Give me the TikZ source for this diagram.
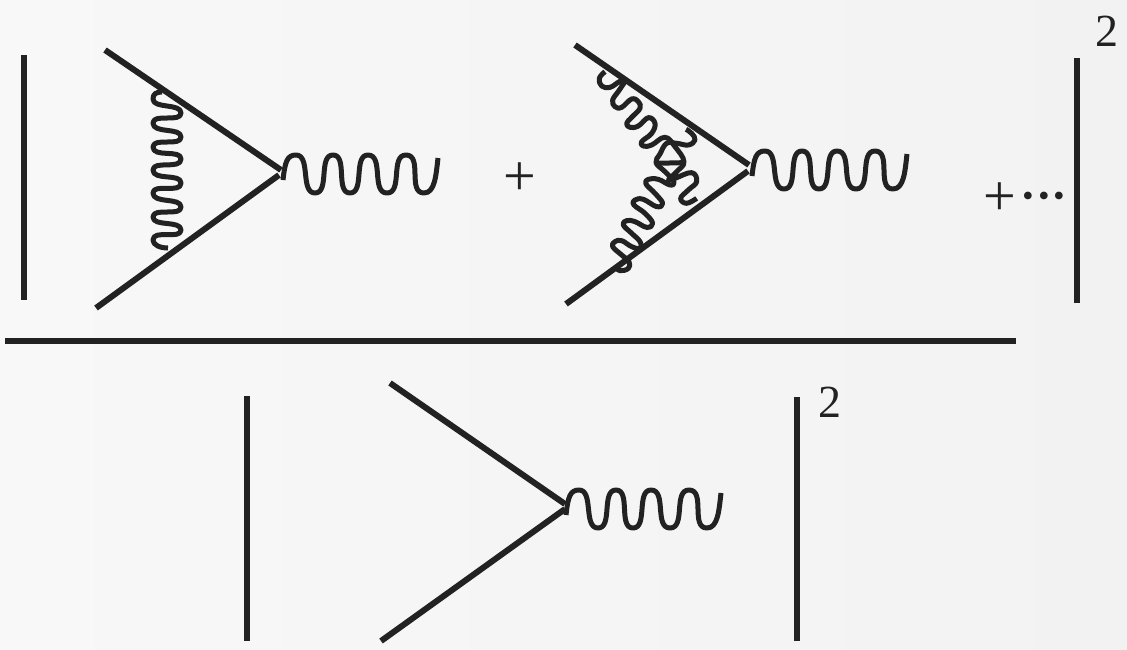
\documentclass[tikz,border=0pt]{standalone}
\usepackage{fontspec}
\setmainfont{Liberation Serif}
\definecolor{ink}{HTML}{222222}
\definecolor{bgA}{HTML}{F8F8F8}
\definecolor{bgB}{HTML}{F2F2F2}
\tikzset{
  fermion/.style={draw=ink,line width=6pt,line cap=butt},
  bar/.style={draw=ink,line width=5.5pt},
  photon/.style={draw=ink,line width=5pt,line cap=butt,line join=round},
  label/.style={text=ink,inner sep=0pt,font=\fontsize{46}{50}\selectfont},
  bigop/.style={text=ink,inner sep=0pt,font=\fontsize{58}{60}\selectfont},
  outphoton/.pic={
    \draw[photon] (283,180) .. controls (285,162) and (287,155) .. (296,155)
      .. controls (311,155) and (300,193) .. (315,193)
      .. controls (330,193) and (318,155) .. (333,155)
      .. controls (348,155) and (335,193) .. (350,193)
      .. controls (365,193) and (353,155) .. (368,155)
      .. controls (384,155) and (371,193) .. (387,193)
      .. controls (403,193) and (390,155) .. (406,155)
      .. controls (423,155) and (407,193) .. (424,193)
      .. controls (435,193) and (436,175) .. (438,158);
  }
}
\begin{document}
\begin{tikzpicture}[x=1pt,y=-1pt]
\useasboundingbox (0,0) rectangle (1127,649);
\shade[left color=bgA,right color=bgB] (0,0) rectangle (1127,649);

% left and right bars, fraction rule
\coordinate (b1t) at (24,55);   \coordinate (b1b) at (24,300);
\coordinate (b2t) at (1077,58); \coordinate (b2b) at (1077,303);
\coordinate (b3t) at (247,396); \coordinate (b3b) at (247,641);
\coordinate (b4t) at (797,397); \coordinate (b4b) at (797,641);
\coordinate (fl) at (5,341);    \coordinate (fr) at (1016,341);
\draw[bar] (b1t) -- (b1b);
\draw[bar] (b2t) -- (b2b);
\draw[bar] (b3t) -- (b3b);
\draw[bar] (b4t) -- (b4b);
\draw[bar] (fl) -- (fr);

% first vertex
\coordinate (a1) at (105,50);  \coordinate (a2) at (281,170);
\coordinate (a3) at (96,308);  \coordinate (a4) at (279,175);
\draw[fermion] (a1) -- (a2);
\draw[fermion] (a3) -- (a4);
\pic at (0,0) {outphoton};
\draw[photon] (162,92) .. controls (156,92) and (153,94) .. (153,99)
  .. controls (153,109) and (181,103) .. (181,113)
  .. controls (181,123) and (153,113) .. (153,123)
  .. controls (153,134) and (181,127) .. (181,137)
  .. controls (181,147) and (153,137) .. (153,147)
  .. controls (153,158) and (181,149) .. (181,159)
  .. controls (181,170) and (153,160) .. (153,170)
  .. controls (153,181) and (181,173) .. (181,183)
  .. controls (181,194) and (153,183) .. (153,193)
  .. controls (153,204) and (181,197) .. (181,207)
  .. controls (181,217) and (153,207) .. (153,217)
  .. controls (153,227) and (181,220) .. (181,230)
  .. controls (181,240) and (153,229) .. (153,240)
  .. controls (153,245) and (160,248) .. (168,248);

% second vertex
\coordinate (c1) at (575,45);  \coordinate (c2) at (749,165);
\coordinate (c3) at (566,304); \coordinate (c4) at (748,171);
\draw[fermion] (c1) -- (c2);
\draw[fermion] (c3) -- (c4);
\pic at (469,-4) {outphoton};
\begin{scope}[shift={(560,30)},x=0.3333pt,y=-0.3333pt]
\draw[photon] plot[smooth,tension=0.7] coordinates {(135,125) (118,145) (125,168) (150,172) (178,155) (195,152) (178,180) (158,210) (165,230) (185,232) (215,207) (235,215) (240,235) (215,262) (200,280) (210,292) (235,288) (265,263) (285,280) (275,310) (245,335) (250,348) (275,345) (315,322) (345,350) (372,395) (350,425) (325,450) (345,445) (395,428) (410,455) (385,480) (362,505) (380,520) (410,505)};
\draw[photon] plot[smooth,tension=0.7] coordinates {(163,708) (180,722) (205,715) (207,695) (185,675) (158,650) (165,635) (185,632) (215,650) (240,655) (240,635) (215,610) (190,585) (200,572) (225,575) (260,592) (278,580) (255,550) (222,525) (225,510) (250,508) (290,530) (308,520) (285,490) (258,462) (265,448) (295,448) (330,465) (342,455) (315,425) (288,398) (300,372) (320,340) (350,340) (385,345) (405,330) (395,310) (378,298)};
\coordinate (xl) at (288,400); \coordinate (xr) at (370,398);
\draw[photon] (xl) -- (xr);
\end{scope}

% denominator vertex
\coordinate (d1) at (390,383); \coordinate (d2) at (565,504);
\coordinate (d3) at (381,641); \coordinate (d4) at (565,509);
\draw[fermion] (d1) -- (d2);
\draw[fermion] (d3) -- (d4);
\pic at (283,335) {outphoton};

% labels
\node[label,anchor=center] (sq1) at (1107,31) {2};
\node[label,anchor=center] (sq2) at (830,402) {2};
\node[bigop,anchor=center] (plus1) at (520,179) {+};
\node[bigop,anchor=center] (plus2) at (1000,199) {+};
\node[label,font=\fontsize{47}{50}\bfseries\selectfont,anchor=center] (dots) at (1044,202) {···};
\end{tikzpicture}
\end{document}
